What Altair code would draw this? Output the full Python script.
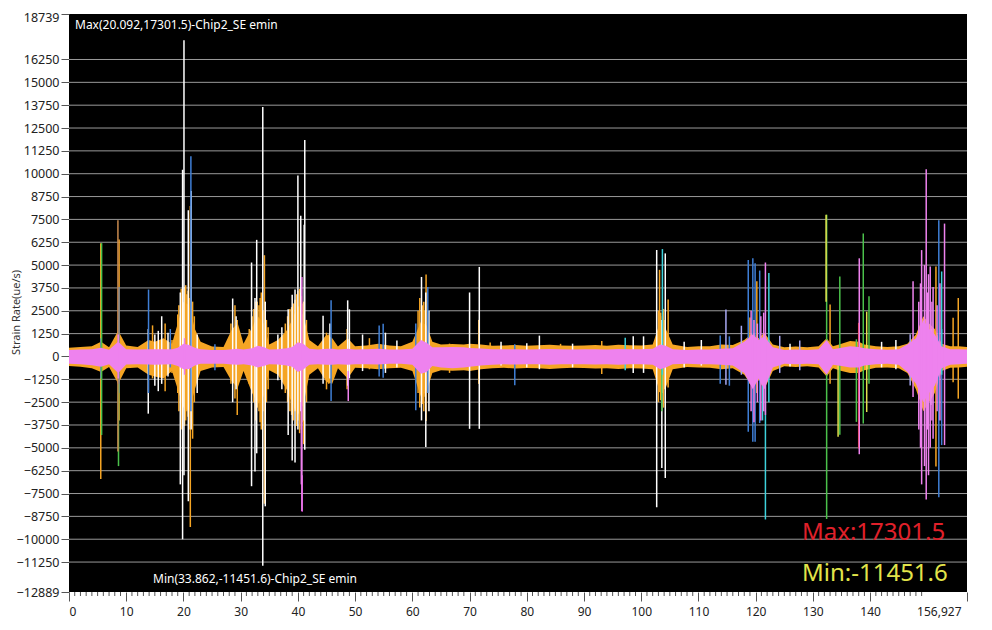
import altair as alt
import pandas as pd

FONT = "Noto Sans"
X_END = 156.927
Y_LO, Y_HI = -12889, 18739
MAX_X, MAX_V = 20.092, 17301.5
MIN_X, MIN_V = 33.862, -11451.6
SERIES_NAME = "Chip2_SE emin"

y_ticks = [18739, 16250, 15000, 13750, 12500, 11250, 10000, 8750, 7500, 6250, 5000,
           3750, 2500, 1250, 0, -1250, -2500, -3750, -5000, -6250, -7500, -8750,
           -10000, -11250, -12889]
x_ticks = [0, 10, 20, 30, 40, 50, 60, 70, 80, 90, 100, 110, 120, 130, 140, 156.927]
x_minor = [v for v in range(1, 150) if v % 10 != 0]

# ---- baseline noise envelopes (outer = orange, inner = pink) ----
band_x = [0, 2, 4, 5.6, 7, 8.6, 10, 12, 13.9, 15, 16.5, 18, 19, 20, 21, 22, 23, 25, 27,
          28.5, 29.5, 30.5, 32, 33, 34, 35, 36.5, 38, 39, 40, 41, 42, 43.5, 45, 46, 47,
          48.7, 50, 52, 54, 56, 58, 60, 61.5, 62.5, 63.5, 65, 67, 69, 70, 72, 74, 76,
          78, 80, 82, 84, 86, 88, 90, 92, 94, 96, 98, 100, 102, 103.3, 104.3, 105.5,
          108, 110, 112, 114, 116, 118, 119.5, 120.5, 121.5, 123, 125, 127, 129, 131,
          132.4, 133.5, 135, 136.5, 138, 139, 141, 143, 145, 146.5, 148, 149.3, 150.3,
          151.3, 152.5, 154, 155.5, 156.927]
band_outer_hi = [480, 520, 560, 800, 500, 1400, 600, 520, 900, 800, 1000, 700, 1800, 3000, 2800,
                 1500, 800, 550, 520, 1500, 1800, 700, 1600, 2200, 1800, 650, 900, 1400, 2000,
                 2800, 2200, 900, 560, 1200, 1000, 550, 1000, 560, 600, 700, 600, 560, 800,
                 1900, 1700, 800, 650, 680, 650, 700, 650, 580, 600, 620, 590, 610, 640, 600,
                 580, 600, 620, 590, 640, 610, 600, 650, 1900, 1500, 650, 520, 560, 560, 650,
                 620, 900, 1300, 1000, 1300, 650, 500, 540, 500, 560, 1000, 560, 700, 850,
                 800, 650, 560, 520, 560, 700, 1200, 2200, 1800, 1500, 700, 560, 560, 520]
band_outer_lo = [-520, -560, -640, -850, -580, -1500, -650, -600, -1000, -1100, -1200, -800,
                 -1800, -2800, -3000, -1800, -800, -600, -580, -1400, -1700, -800, -2000, -2600,
                 -2200, -750, -1000, -1800, -2600, -3200, -2600, -1000, -650, -1400, -1500, -650,
                 -1200, -620, -650, -700, -650, -620, -800, -2200, -1900, -900, -750, -780, -760,
                 -800, -700, -640, -620, -660, -630, -650, -680, -640, -620, -630, -660, -640,
                 -680, -650, -660, -700, -2000, -1700, -700, -580, -600, -620, -700, -650, -1000,
                 -1700, -1300, -1800, -800, -540, -580, -540, -600, -1100, -650, -800, -900,
                 -900, -750, -620, -600, -650, -900, -1800, -3000, -2500, -2000, -800, -620,
                 -600, -560]
band_inner_hi = [360, 380, 400, 480, 370, 800, 400, 380, 400, 400, 400, 400, 480, 700, 620, 480,
                 400, 360, 360, 400, 420, 380, 450, 580, 520, 380, 400, 450, 520, 780, 680, 420,
                 380, 420, 420, 380, 420, 380, 400, 420, 380, 380, 420, 900, 750, 500, 500, 520,
                 500, 460, 440, 400, 390, 400, 380, 390, 410, 390, 380, 390, 400, 380, 410, 400,
                 390, 420, 650, 580, 400, 360, 380, 380, 420, 450, 800, 1200, 900, 1100, 500,
                 360, 380, 360, 390, 900, 400, 480, 560, 520, 450, 390, 370, 400, 650, 1000, 2000,
                 1500, 1200, 550, 400, 400, 380]
band_inner_lo = [-400, -430, -480, -560, -430, -900, -440, -420, -440, -450, -440, -420, -520,
                 -700, -680, -500, -400, -400, -400, -440, -450, -420, -500, -600, -520, -420,
                 -440, -500, -560, -850, -700, -450, -420, -450, -460, -420, -460, -420, -420,
                 -440, -400, -400, -460, -950, -850, -520, -600, -650, -600, -560, -500, -450,
                 -430, -440, -420, -430, -450, -430, -420, -430, -440, -420, -450, -430, -430,
                 -450, -700, -600, -420, -400, -420, -420, -450, -500, -900, -1800, -1200, -1800,
                 -600, -400, -420, -400, -420, -1000, -450, -520, -600, -600, -500, -420, -400,
                 -450, -850, -1500, -2500, -2000, -1600, -650, -450, -420, -400]

# ---- spikes per channel: x, low, high ----
white_x = [13.85, 15.0, 15.6, 16.2, 17.3, 19.45, 19.85, 20.092, 20.85, 21.35, 22.4, 28.6, 29.2,
           31.9, 32.5, 32.8, 33.862, 34.3, 36.5, 37.2, 38.3, 39.0, 39.5, 40.0, 40.5, 41.1, 41.2,
           44.4, 45.6, 48.7, 49.0, 51.3, 55.3, 57.3, 61.6, 62.35, 62.9, 70.0, 71.7, 75.5, 80.0,
           82.2, 88.0, 98.6, 100.4, 102.7, 103.6, 104.2, 107.5, 110.5, 126.0, 142.0, 144.5, 150.6]
white_lo = [-3130, -1600, -1900, -1500, -1100, -7000, -10000, -6500, -7920, -4000, -2000, -2500,
            -1800, -7100, -6300, -5300, -11451.6, -8200, -1300, -1800, -4300, -5700, -5800, -4000,
            -3000, -3500, -5100, -1500, -1200, -1600, -1200, -800, -900, -600, -3500, -4950, -3000,
            -3960, -3960, -500, -600, -700, -600, -900, -900, -8250, -6110, -6650, -600, -500, -550,
            -600, -700, -2650]
white_hi = [1500, 1200, 1400, 2200, 1300, 3500, 10220, 17301.5, 8000, 9050, 1200, 3170, 2200,
            5140, 3200, 6380, 13650, 3000, 1200, 1600, 2580, 3370, 3660, 9900, 7700, 7210, 11840,
            2230, 1800, 3070, 2580, 1200, 1300, 870, 4350, 3500, 2500, 3500, 4900, 800, 720, 1140,
            700, 1100, 1100, 5820, 2000, 5640, 800, 900, 700, 800, 900, 1500]

orange_x = [5.55, 8.75, 8.6, 14.6, 16.8, 18.0, 19.0, 19.2, 19.6, 19.8, 20.2, 20.4, 20.6, 20.8,
            21.0, 21.2, 21.4, 21.6, 21.9, 28.3, 29.0, 29.4, 31.5, 32.0, 32.3, 32.6, 32.9, 33.2,
            33.4, 33.6, 33.9, 34.15, 34.5, 34.8, 37.8, 38.2, 38.6, 38.9, 39.2, 39.5, 39.8, 40.0,
            40.3, 40.6, 40.9, 41.0, 41.5, 42.1, 45.0, 45.4, 48.6, 52.5, 61.0, 61.3, 61.8, 62.0,
            62.2, 62.4, 66.5, 71.6, 73.6, 85.9, 93.1, 103.0, 103.2, 103.4, 103.7, 103.9, 104.0,
            104.7, 119.0, 120.2, 133.0, 151.5, 154.5, 155.4]
orange_lo = [-6700, -3500, -1500, -1200, -1900, -900, -2000, -3000, -4000, -3200, -3800, -3500,
             -3000, -3300, -4000, -9330, -3000, -4500, -2500, -1500, -2300, -3200, -1500, -2000,
             -2500, -3500, -2800, -3000, -3600, -4000, -3000, -8060, -2500, -1800, -2000, -2500,
             -3000, -3200, -3500, -3000, -3800, -3500, -4200, -4000, -3600, -4800, -2500, -700,
             -1800, -1500, -1800, -700, -2000, -2800, -2600, -3000, -2200, -3530, -900, -1500,
             -600, -500, -960, -2500, -1950, -2400, -2000, -2800, -1800, -1700, -1500, -2000,
             -1500, -6020, -1410, -2310]
orange_hi = [6200, 6400, 2000, 1700, 1800, 900, 2300, 2800, 3700, 3300, 3800, 3900, 3400, 3600,
             3200, 8230, 2600, 3000, 2200, 1800, 2800, 2000, 1500, 2200, 2600, 3000, 3000, 2800,
             3200, 3500, 2500, 5540, 2000, 1600, 1800, 2200, 2600, 2700, 2900, 3100, 3400, 3600,
             3700, 3300, 2900, 3000, 2000, 760, 1300, 1200, 1500, 1000, 2500, 3200, 2800, 3000,
             2500, 4490, 700, 2000, 760, 690, 850, 2500, 4740, 2400, 2200, 2600, 2000, 3110, 2130,
             4120, 2840, 4920, 2120, 3200]

blue_x = [5.6, 8.7, 13.9, 17.7, 21.3, 25.5, 45.8, 54.2, 54.9, 60.6, 62.7, 77.9, 113.8, 115.4,
          118.7, 119.5, 119.9, 120.7, 152.0, 152.5]
blue_lo = [-1200, -2000, -2000, -600, -3000, -760, -2440, -1100, -1160, -2940, -2000, -1570,
           -1500, -1600, -4120, -4670, -4670, -3640, -7700, -4850]
blue_hi = [1000, 3800, 3660, 1500, 10950, 670, 3070, 1700, 1790, 1800, 3800, 670, 1140, 1100,
           5280, 5370, 5100, 4700, 7450, 1500]

green_x = [5.7, 8.65, 103.6, 132.4, 134.7, 137.6, 138.8, 139.8]
green_lo = [-4300, -6000, -3000, -8900, -4290, -3580, -3670, -1500]
green_hi = [6200, -1500, -500, 7760, 4380, 940, 6730, 3290]

cyan_x = [97.2, 103.7, 121.2, 121.7, 122.3, 152.5]
cyan_lo = [-760, -1000, -3500, -8920, -2500, -1000]
cyan_hi = [1030, 5875, -800, -500, 4560, 4650]

yellow_x = [132.3, 134.4, 139.4]
yellow_lo = [3000, -4400, -3040]
yellow_hi = [7760, -500, 2450]

brown_x = [8.55]
brown_lo = [-5200]
brown_hi = [7450]

red_x = [138.0]
red_lo = [-5030]
red_hi = [1840]

lavender_x = [114.8, 117.5, 124.2, 127.7, 147.0]
lavender_lo = [-1550, -1000, -900, -760, -1590]
lavender_hi = [2570, 1680, 1130, 870, 1210]

magenta_x = [40.75]
magenta_lo = [-8500]
magenta_hi = [-6500]

pink_spike_x = [8.6, 20.2, 40.6, 40.7, 48.8, 119.2, 119.7, 120.3, 120.9, 121.4, 121.7, 138.1,
                147.5, 148.5, 148.8, 149.0, 149.5, 149.8, 150.0, 150.2, 150.5, 150.8, 151.0,
                151.7, 152.2, 153.0]
pink_spike_lo = [-1200, -1000, -7000, -8450, -2440, -3000, -3600, -2500, -3500, -3000, -3200,
                 -5350, -2220, -4000, -5000, -7000, -6000, -7830, -4000, -6500, -5000, -3500,
                 -4500, -3000, -3500, -4850]
pink_spike_hi = [1200, 1000, -2500, 4350, -800, 2500, 2000, 1800, 2200, 2400, 5140, 5370,
                 4110, 3000, 4000, 5820, 5000, 10250, 3500, 4500, 4920, 3000, 3800, 2800,
                 4000, 7270]

palette = {
    "orange": "#F5A524", "white": "#FFFFFF", "blue": "#3F7FD6", "green": "#4BC24B",
    "cyan": "#3ED2DC", "yellow": "#E2E24E", "brown": "#C98A4E", "red": "#E0301E",
    "lavender": "#A8A8F2", "magenta": "#D43FD4", "pink": "#EE82EE",
}

groups = [
    ("orange", orange_x, orange_lo, orange_hi),
    ("white", white_x, white_lo, white_hi),
    ("blue", blue_x, blue_lo, blue_hi),
    ("green", green_x, green_lo, green_hi),
    ("cyan", cyan_x, cyan_lo, cyan_hi),
    ("yellow", yellow_x, yellow_lo, yellow_hi),
    ("brown", brown_x, brown_lo, brown_hi),
    ("red", red_x, red_lo, red_hi),
    ("lavender", lavender_x, lavender_lo, lavender_hi),
    ("magenta", magenta_x, magenta_lo, magenta_hi),
]
rows = []
for name, xs_, los, his in groups:
    for a, b, c in zip(xs_, los, his):
        rows.append({"x": a, "lo": b, "hi": c, "series": name})
spikes = pd.DataFrame(rows)
pink_spikes = pd.DataFrame({"x": pink_spike_x, "lo": pink_spike_lo, "hi": pink_spike_hi})
band = pd.DataFrame({"x": band_x, "o_hi": band_outer_hi, "o_lo": band_outer_lo,
                     "p_hi": band_inner_hi, "p_lo": band_inner_lo})

W, H = 898, 578
xs = alt.Scale(domain=[0, X_END], nice=False, zero=False)
ys = alt.Scale(domain=[Y_LO, Y_HI], nice=False, zero=False)

x_axis = alt.Axis(values=x_ticks, labelExpr="datum.value > 150 ? '156,927' : datum.label",
                  title=None, grid=False, domain=False, tickSize=9, tickColor="#555555",
                  labelColor="#222222", labelFontSize=12, labelFont=FONT, labelPadding=5,
                  labelOverlap=False,
                  labelOffset={"condition": {"test": "datum.value > 150", "value": -6}, "value": 0})
y_axis = alt.Axis(values=y_ticks, format="d", title="Strain Rate(ue/s)", grid=False,
                  domain=False, tickSize=8, tickColor="#555555", labelColor="#222222",
                  labelFontSize=12.5, labelFont=FONT, labelPadding=2, labelOverlap=False,
                  labelOffset={"condition": {"test": "datum.value > 18000", "value": 3}, "value": 0},
                  titleFont=FONT, titleFontSize=11, titleFontWeight="normal",
                  titleColor="#333333", titleX=-48, titleY=298)

def X(field):
    return alt.X(field, type="quantitative", scale=xs, axis=x_axis)

def Y(field):
    return alt.Y(field, type="quantitative", scale=ys, axis=y_axis)

grid_df = pd.DataFrame({"y": y_ticks[1:-1]})
grid = alt.Chart(grid_df).mark_rule(color="#9a9a9a", strokeWidth=1).encode(y=Y("y"))

orange_band = alt.Chart(band).mark_area(color=palette["orange"], opacity=1).encode(
    x=X("x"), y=Y("o_lo"), y2="o_hi:Q")

spike_layer = alt.Chart(spikes).mark_rule(strokeWidth=1.5).encode(
    x=X("x"), y=Y("lo"), y2="hi:Q",
    color=alt.Color("series:N", scale=alt.Scale(domain=list(palette.keys()),
                                                range=list(palette.values())), legend=None))

pink_band = alt.Chart(band).mark_area(color=palette["pink"], opacity=1).encode(
    x=X("x"), y=Y("p_lo"), y2="p_hi:Q")

pink_layer = alt.Chart(pink_spikes).mark_rule(strokeWidth=1.5, color=palette["pink"]).encode(
    x=X("x"), y=Y("lo"), y2="hi:Q")

minor = alt.Chart(pd.DataFrame({"x": x_minor})).mark_rule(color="#555555", strokeWidth=1).encode(
    x=X("x"), y=alt.value(H), y2=alt.value(H + 4))

def label(text, px, py, size, color):
    return alt.Chart(pd.DataFrame({"t": [text]})).mark_text(
        align="left", baseline="alphabetic", font=FONT, fontSize=size, color=color
    ).encode(x=alt.value(px), y=alt.value(py), text="t:N")

max_txt = label(f"Max({MAX_X:.3f},{MAX_V})-{SERIES_NAME}", 6, 15, 12, "#FFFFFF")
min_txt = label(f"Min({MIN_X:.3f},{MIN_V})-{SERIES_NAME}", 84, 569, 12, "#FFFFFF")
max_big = label(f"Max:{MAX_V}", 733, 526, 24, "#E0202A")
min_big = label(f"Min:{MIN_V}", 733, 567, 24, "#E2E44A")

chart = alt.layer(
    grid, orange_band, spike_layer, pink_band, pink_layer, minor,
    max_txt, min_txt, max_big, min_big
).properties(
    width=W, height=H,
    autosize=alt.AutoSizeParams(type="none"),
    padding={"left": 61, "top": 6, "right": 17, "bottom": 30},
    background="#FFFFFF",
).configure_view(fill="#000000", stroke=None)

chart.save("out.html", embed_options={"renderer": "svg", "actions": False})
